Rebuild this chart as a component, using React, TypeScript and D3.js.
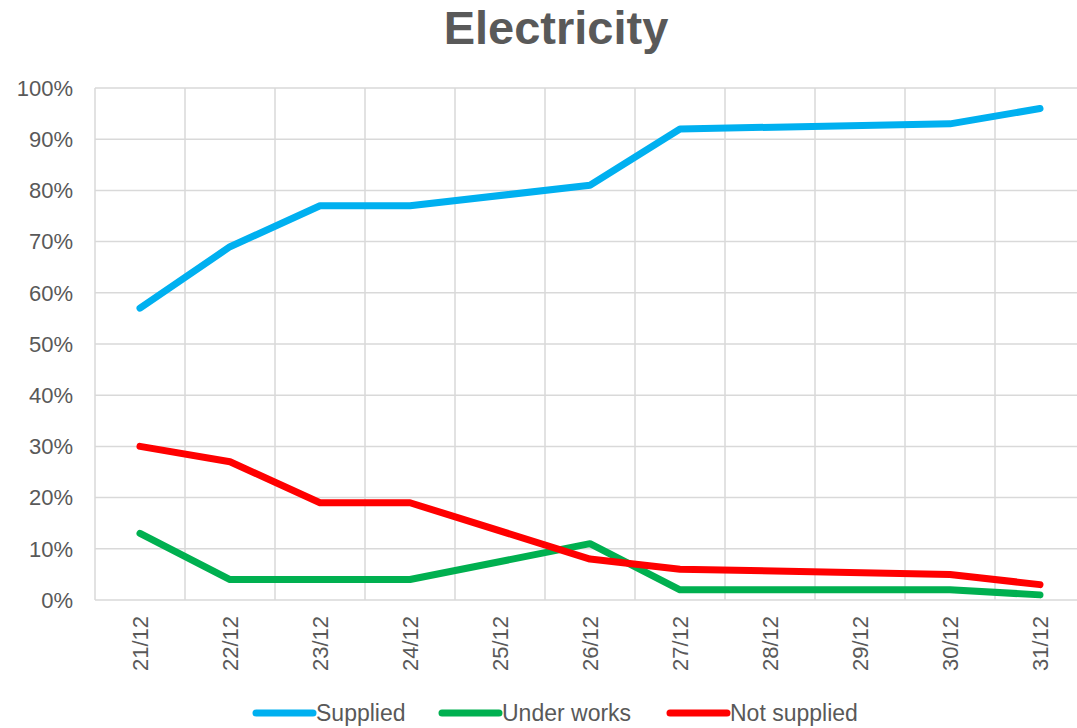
import React from 'react';
import * as d3 from 'd3';

const days = ['21/12', '22/12', '23/12', '24/12', '25/12', '26/12', '27/12', '28/12', '29/12', '30/12', '31/12'];
// null = no value for that day, line is joined across the gap
const supplied = [57, 69, 77, 77, null, 81, 92, null, null, 93, 96];
const underWorks = [13, 4, 4, 4, null, 11, 2, null, null, 2, 1];
const notSupplied = [30, 27, 19, 19, null, 8, 6, null, null, 5, 3];
const yTicks = [0, 10, 20, 30, 40, 50, 60, 70, 80, 90, 100];

const seriesList = [
  { name: 'Supplied', values: supplied, color: '#00B0F0' },
  { name: 'Under works', values: underWorks, color: '#00B050' },
  { name: 'Not supplied', values: notSupplied, color: '#FF0000' },
];

const W = 1077;
const H = 728;
const font = 'Arial, "Liberation Sans", sans-serif';
const grey = '#595959';

export default function App() {
  const x = d3.scaleBand().domain(days).range([95, 1085]).padding(0);
  const y = d3.scaleLinear().domain([0, 100]).range([600, 88]);
  const cx = (d) => x(d) + x.bandwidth() / 2;

  const line = d3.line()
    .x(d => cx(d.day))
    .y(d => y(d.v));

  const legendPos = [256, 442, 670];

  return (
    <svg width={W} height={H} style={{ position: 'absolute', left: 0, top: 0 }} fontFamily={font}>
      <text x={556} y={44} textAnchor="middle" fontSize={47} fontWeight="bold" fill={grey}>Electricity</text>

      {yTicks.map(t => (
        <g key={t}>
          <line x1={95} x2={1085} y1={y(t)} y2={y(t)} stroke="#D9D9D9" strokeWidth={1.5} />
          <text x={73} y={y(t)} dy="0.35em" textAnchor="end" fontSize={22} fill={grey}>{t}%</text>
        </g>
      ))}

      {days.map(d => (
        <line key={d} x1={x(d)} x2={x(d)} y1={88} y2={600} stroke="#D9D9D9" strokeWidth={1.5} />
      ))}
      <line x1={1085} x2={1085} y1={88} y2={600} stroke="#D9D9D9" strokeWidth={1.5} />

      {days.map(d => (
        <text key={d} transform={`translate(${cx(d)},616) rotate(-90)`} dy="0.35em" textAnchor="end" fontSize={22} fill={grey}>{d}</text>
      ))}

      {seriesList.map(s => {
        const pts = s.values.map((v, i) => ({ day: days[i], v })).filter(p => p.v !== null);
        return (
          <path key={s.name} d={line(pts)} fill="none" stroke={s.color} strokeWidth={7}
            strokeLinecap="round" strokeLinejoin="round" />
        );
      })}

      {seriesList.map((s, i) => (
        <g key={s.name} transform={`translate(${legendPos[i]},713)`}>
          <line x1={0} x2={57} y1={0} y2={0} stroke={s.color} strokeWidth={7} strokeLinecap="round" />
          <text x={60} y={0} dy="0.35em" fontSize={23} fill={grey}>{s.name}</text>
        </g>
      ))}
    </svg>
  );
}
